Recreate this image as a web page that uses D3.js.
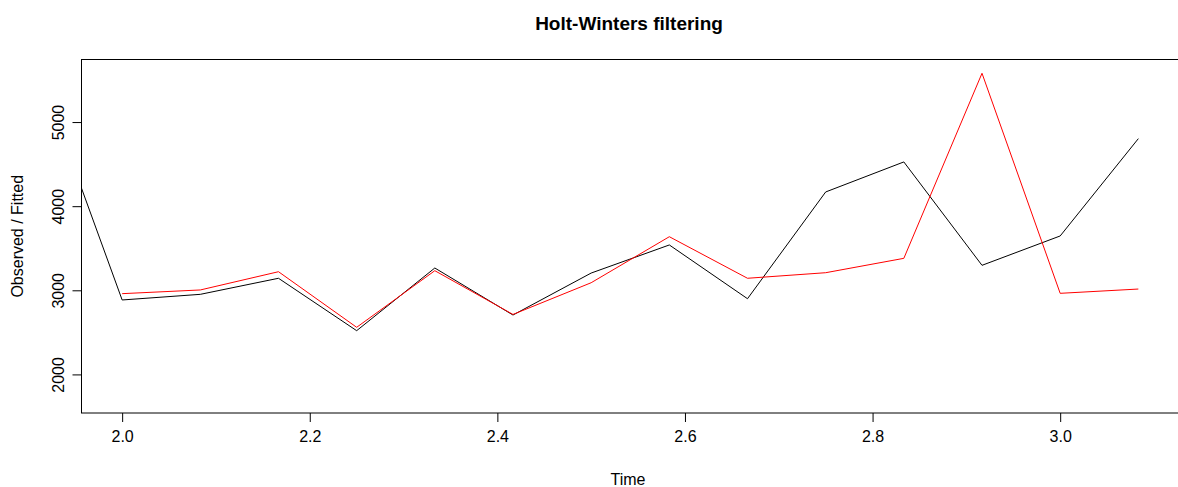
<!DOCTYPE html>
<html>
<head>
<meta charset="utf-8">
<script src="https://cdn.jsdelivr.net/npm/d3@7"></script>
<style>
  html, body { margin: 0; padding: 0; background: #fff; }
  svg { display: block; }
  text { font-family: "Liberation Sans", Arial, sans-serif; fill: #000; }
</style>
</head>
<body>
<svg id="chart" width="1178" height="487"></svg>
<script>
// Monthly time points (year fractions) of the series
const observedTime = [23/12, 24/12, 25/12, 26/12, 27/12, 28/12, 29/12, 30/12, 31/12, 32/12, 33/12, 34/12, 35/12, 36/12, 37/12];
const observed = [5440, 2885, 2952, 3143, 2520, 3265, 2706, 3205, 3539, 2900, 4169, 4526, 3297, 3646, 4803];

const fittedTime = [24/12, 25/12, 26/12, 27/12, 28/12, 29/12, 30/12, 31/12, 32/12, 33/12, 34/12, 35/12, 36/12, 37/12];
const fitted = [2960, 3004, 3221, 2560, 3233, 2713, 3090, 3637, 3143, 3209, 3380, 5580, 2964, 3015];

const xTicks = [2.0, 2.2, 2.4, 2.6, 2.8, 3.0];
const yTicks = [2000, 3000, 4000, 5000];

const xLimits = [24/12, 37/12];
const yLimits = [1697, 5588];

const W = 1178, H = 487;
const margin = { left: 81.5, top: 59.5, right: 1179, bottom: 413 };

const svg = d3.select("#chart");

// R-style 4% axis expansion
function expand(lim) {
  const d = (lim[1] - lim[0]) * 0.04;
  return [lim[0] - d, lim[1] + d];
}

const x = d3.scaleLinear().domain(expand(xLimits)).range([margin.left, margin.right]);
const y = d3.scaleLinear().domain(expand(yLimits)).range([margin.bottom, margin.top]);

svg.append("defs").append("clipPath").attr("id", "plotClip")
  .append("rect")
  .attr("x", margin.left).attr("y", margin.top)
  .attr("width", margin.right - margin.left).attr("height", margin.bottom - margin.top);

const line = d3.line().x(d => x(d[0])).y(d => y(d[1]));

const plot = svg.append("g").attr("clip-path", "url(#plotClip)");

plot.append("path")
  .datum(observedTime.map((t, i) => [t, observed[i]]))
  .attr("d", line)
  .attr("fill", "none").attr("stroke", "#000").attr("stroke-width", 1);

plot.append("path")
  .datum(fittedTime.map((t, i) => [t, fitted[i]]))
  .attr("d", line)
  .attr("fill", "none").attr("stroke", "#ff0000").attr("stroke-width", 1);

// Plot frame
svg.append("rect")
  .attr("x", margin.left).attr("y", margin.top)
  .attr("width", margin.right - margin.left).attr("height", margin.bottom - margin.top)
  .attr("fill", "none").attr("stroke", "#000").attr("stroke-width", 1);

// Bottom axis
const xAxis = d3.axisBottom(x).tickValues(xTicks).tickFormat(d3.format(".1f"))
  .tickSize(9).tickPadding(9);
const gx = svg.append("g").attr("transform", `translate(0,${margin.bottom})`).call(xAxis);
gx.select(".domain").remove();
gx.selectAll(".tick line").attr("stroke", "#000");
gx.selectAll(".tick text").attr("font-size", 16).attr("font-family", "Liberation Sans, Arial, sans-serif");

// Left axis with rotated labels
const yAxis = d3.axisLeft(y).tickValues(yTicks).tickFormat(d3.format("d")).tickSize(9);
const gy = svg.append("g").attr("transform", `translate(${margin.left},0)`).call(yAxis);
gy.select(".domain").remove();
gy.selectAll(".tick line").attr("stroke", "#000");
gy.selectAll(".tick text")
  .attr("font-size", 16).attr("font-family", "Liberation Sans, Arial, sans-serif")
  .attr("x", null).attr("dy", null)
  .attr("text-anchor", "middle")
  .attr("transform", "translate(-23,0) rotate(-90)")
  .attr("dy", "0.35em");

// Title and axis titles
const cx = (81 + 1178) / 2;
svg.append("text").attr("x", 629).attr("y", 30)
  .attr("text-anchor", "middle").attr("font-size", 19).attr("font-weight", "bold")
  .text("Holt-Winters filtering");

svg.append("text").attr("x", 628).attr("y", 485)
  .attr("text-anchor", "middle").attr("font-size", 16)
  .text("Time");

svg.append("text")
  .attr("transform", `translate(23,${(margin.top + margin.bottom) / 2}) rotate(-90)`)
  .attr("text-anchor", "middle").attr("font-size", 16)
  .text("Observed / Fitted");
</script>
</body>
</html>
